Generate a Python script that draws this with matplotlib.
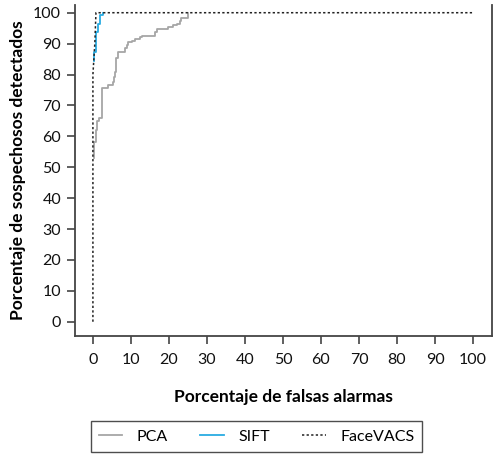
import numpy as np
import matplotlib.pyplot as plt

plt.rcParams['font.family'] = ['Lato', 'DejaVu Sans']

# curvas ROC (falsas alarmas %, sospechosos detectados %)
pca_x = [0.35, 0.8, 1.2, 1.6, 2.3, 3.9, 5.2, 5.6, 5.9, 6.2, 6.6, 8.4, 8.9,
         9.3, 10.2, 11.1, 12.4, 12.8, 16.3, 16.8, 19.8, 21.1, 22.0, 22.9,
         23.3, 25.1]
pca_y = [52.9, 58.3, 62.0, 65.0, 66.0, 75.8, 76.6, 77.7, 79.3, 80.9, 85.2,
         87.3, 88.5, 89.5, 90.4, 91.0, 91.4, 92.0, 92.5, 93.9, 94.7, 95.5,
         96.0, 96.5, 97.4, 98.2, 100.0]

sift_x = [0.2, 0.8, 1.3, 1.9, 2.6]
sift_y = [84.5, 87.4, 93.7, 96.3, 99.4, 100.0]

face_x = [0.0, 0.0, 0.5, 0.8, 100.0]
face_y = [0.0, 80.0, 90.0, 100.0, 100.0]

ticks = np.arange(0, 101, 10)

fig = plt.figure(figsize=(4.97, 4.54), dpi=100)
ax = fig.add_axes([0.151, 0.26, 0.839, 0.729])

# escalones: subida vertical y luego tramo horizontal
px = np.repeat(pca_x, 2)
py = np.concatenate([[pca_y[0]], np.repeat(pca_y[1:], 2)[:-1]])
ax.plot(px, py, color='#a6a6a6', lw=1.3, label='PCA')

sx = np.repeat(sift_x, 2)
sy = np.concatenate([[sift_y[0]], np.repeat(sift_y[1:], 2)[:-1]])
ax.plot(sx, sy, color='#29abe2', lw=1.3, label='SIFT')

ax.plot(face_x, face_y, color='#222222', lw=1.1, ls=(0, (1.5, 1.5)),
        label='FaceVACS')

ax.set_xlim(-4.7, 105)
ax.set_ylim(-4.6, 102.5)
ax.set_xticks(ticks)
ax.set_yticks(ticks)
ax.spines['top'].set_visible(False)
for s in ['left', 'bottom', 'right']:
    ax.spines[s].set_color('#444444')
    ax.spines[s].set_linewidth(1.3)
ax.tick_params(direction='out', length=6, width=1.2, color='#444444',
               labelsize=11.5, labelcolor='#111111', pad=6)
ax.tick_params(axis='y', pad=4)

ax.set_xlabel('Porcentaje de falsas alarmas', fontsize=12.5,
              fontweight='bold', labelpad=16)
ax.set_ylabel('Porcentaje de sospechosos detectados', fontsize=12.5,
              fontweight='bold', labelpad=5)

fig.legend(loc='lower center', bbox_to_anchor=(0.516, 0.0), ncol=3,
           frameon=True, fancybox=False, edgecolor='#222222',
           fontsize=11.5, handlelength=1.5, handletextpad=0.9,
           columnspacing=2.0, borderpad=0.5,
           borderaxespad=0.15).get_frame().set_linewidth(1.0)

fig.savefig('out.png', dpi=100)
